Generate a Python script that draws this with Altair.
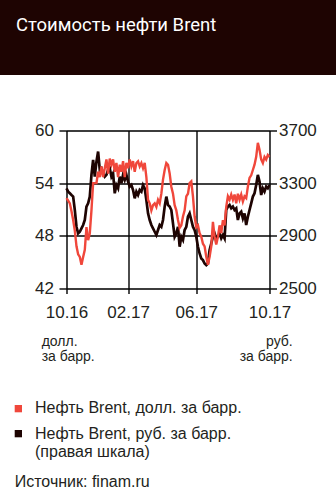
import altair as alt
import pandas as pd

# Brent, USD per barrel (left axis), sampled along the period 10.16 -> 10.17
usd = [52.3, 52.0, 51.7, 50.8, 49.8, 48.6, 46.8, 45.9, 45.6, 44.7,
       45.6, 46.4, 49.0, 47.5, 48.3, 50.9, 54.0, 54.0, 54.0, 55.3,
       54.7, 55.9, 54.7, 55.7, 56.7, 55.1, 56.8, 56.1, 56.7, 55.3,
       56.3, 54.7, 56.1, 55.3, 56.5, 54.7, 56.3, 55.7, 56.7, 55.9,
       56.5, 55.3, 56.3, 56.5, 55.9, 56.3, 55.7, 56.3, 54.7, 52.1,
       51.7, 50.9, 51.5, 51.7, 51.3, 52.1, 51.7, 52.8, 54.4, 55.5,
       56.3, 56.1, 55.1, 53.6, 52.8, 51.5, 50.9, 49.8, 48.9, 49.2,
       50.2, 50.9, 52.5, 52.8, 54.0, 54.2, 52.5, 50.2, 49.0, 49.2,
       48.3, 47.9, 47.1, 46.8, 45.6, 44.7, 45.6, 46.8, 49.6, 47.9,
       47.0, 47.9, 49.2, 48.3, 49.8, 49.2, 51.3, 52.5, 52.1, 52.7,
       52.1, 52.7, 51.7, 52.8, 52.1, 52.7, 51.9, 52.5, 52.3, 53.6,
       54.6, 54.9, 55.5, 56.1, 57.0, 58.6, 57.8, 56.7, 56.3, 57.0,
       56.7, 57.2, 57.0]

# Brent, RUB per barrel (right axis)
rub = [3261, 3236, 3223, 3210, 3198, 3096, 2969, 2919, 2931, 2957,
       2982, 3020, 3122, 3147, 3198, 3363, 3477, 3350, 3464, 3540,
       3401, 3413, 3375, 3350, 3363, 3401, 3413, 3350, 3375, 3223,
       3286, 3261, 3350, 3299, 3363, 3325, 3363, 3312, 3274, 3286,
       3248, 3185, 3236, 3210, 3248, 3236, 3286, 3261, 3172, 3071,
       3020, 2982, 2957, 2931, 2906, 2944, 2982, 2969, 3020, 3122,
       3198, 3134, 3122, 3096, 2995, 2893, 2919, 2969, 2817, 2893,
       2868, 2944, 2969, 3045, 3071, 3020, 2969, 2944, 2893, 2817,
       2766, 2728, 2716, 2690, 2678, 2690, 2792, 2842, 2893, 2919,
       2881, 2893, 2919, 2881, 2906, 2881, 3096, 3122, 3134, 3109,
       3122, 3096, 3109, 3020, 3071, 3084, 3033, 3071, 2982, 3045,
       3096, 3147, 3198, 3223, 3286, 3363, 3312, 3210, 3261, 3236,
       3274, 3261, 3286]

tick_pos = [0, 37, 78, 122]
tick_lab = ["10.16", "02.17", "06.17", "10.17"]
usd_ticks = [42, 48, 54, 60]
rub_ticks = [2500, 2900, 3300, 3700]

title_text = "Стоимость нефти Brent"
unit_left = ["долл.", "за барр."]
unit_right = ["руб.", "за барр."]
legend_usd = "Нефть Brent, долл. за барр."
legend_rub = ["Нефть Brent, руб. за барр.", "(правая шкала)"]
source_text = "Источник: finam.ru"

RED = "#f0473b"
DARK = "#1e0402"
TXT = "#231f20"
FONT = "Liberation Sans"
TFONT = "Roboto"

df = pd.DataFrame({"i": list(range(len(usd))), "usd": usd, "rub": rub})

label_expr = " : ".join(
    f"datum.value == {p} ? '{l}'" for p, l in zip(tick_pos, tick_lab)
) + " : ''"

x_enc = alt.X(
    "i:Q",
    scale=alt.Scale(domain=[tick_pos[0], tick_pos[-1]], nice=False, zero=False),
    axis=alt.Axis(values=tick_pos, labelExpr=label_expr, title=None, grid=True,
                  gridColor="black", gridWidth=1.4, domain=False,
                  tickSize=5, tickColor="black", tickWidth=1.4,
                  labelPadding=11, labelFont=FONT, labelFontSize=17,
                  labelColor=TXT, labelFlush=False),
)

base = alt.Chart(df).encode(x=x_enc)

black_line = base.mark_line(color=DARK, strokeWidth=2.7).encode(
    y=alt.Y("rub:Q", scale=alt.Scale(domain=[rub_ticks[0], rub_ticks[-1]], nice=False, zero=False),
            axis=alt.Axis(orient="right", values=rub_ticks, format="d", title=None, grid=False,
                          domain=False, tickSize=7, tickColor="black", tickWidth=1.4,
                          labelPadding=2, labelFont=FONT, labelFontSize=17,
                          labelColor=TXT, labelFlush=False))
)

red_line = base.mark_line(color=RED, strokeWidth=2.4).encode(
    y=alt.Y("usd:Q", scale=alt.Scale(domain=[usd_ticks[0], usd_ticks[-1]], nice=False, zero=False),
            axis=alt.Axis(orient="left", values=usd_ticks, format="d", title=None, grid=True,
                          gridColor="black", gridWidth=1.4, domain=False,
                          tickSize=7.5, tickColor="black", tickWidth=1.4,
                          labelPadding=5.5, labelFont=FONT, labelFontSize=17,
                          labelColor=TXT, labelFlush=False))
)

one = pd.DataFrame({"k": [0]})

band = alt.Chart(one).mark_rect(color=DARK).encode(
    x=alt.value(-66.5), x2=alt.value(269.5), y=alt.value(-130.5), y2=alt.value(-55.5))

def txt(t, x, y, size, color=TXT, align="left", font=FONT):
    return alt.Chart(pd.DataFrame({"t": [t]})).mark_text(
        align=align, baseline="alphabetic", font=font, fontSize=size, color=color
    ).encode(x=alt.value(x), y=alt.value(y), text="t:N")

title = txt(title_text, -50.5, -99.5, 18.5, color="white", font=TFONT)

ul1 = txt(unit_left[0], -24.8, 215.8, 14)
ul2 = txt(unit_left[1], -24.8, 230.8, 14)
ur1 = txt(unit_right[0], 226.2, 215.8, 14, align="right")
ur2 = txt(unit_right[1], 226.2, 230.8, 14, align="right")

sq_red = alt.Chart(one).mark_rect(color=RED).encode(
    x=alt.value(-51.8), x2=alt.value(-44.5), y=alt.value(274.5), y2=alt.value(281.8))
sq_dark = alt.Chart(one).mark_rect(color=DARK).encode(
    x=alt.value(-51.8), x2=alt.value(-44.5), y=alt.value(299.5), y2=alt.value(306.8))

lg1 = txt(legend_usd, -31.5, 282.8, 16)
lg2 = txt(legend_rub[0], -31.5, 308.8, 16)
lg3 = txt(legend_rub[1], -31.5, 326.8, 16)
src = txt(source_text, -51.8, 356.2, 16)

lines = alt.layer(black_line, red_line).resolve_scale(y="independent")

chart = alt.layer(
    band, title, ul1, ul2, ur1, ur2, sq_red, sq_dark, lg1, lg2, lg3, src, lines
).resolve_scale(y="independent").properties(
    width=203, height=158,
    padding={"left": 66.5, "top": 130.5, "right": 66.5, "bottom": 211.5},
    autosize="none",
).configure_view(strokeWidth=0).configure(background="white")

chart.save("out.html", embed_options={"renderer": "svg", "actions": False})
